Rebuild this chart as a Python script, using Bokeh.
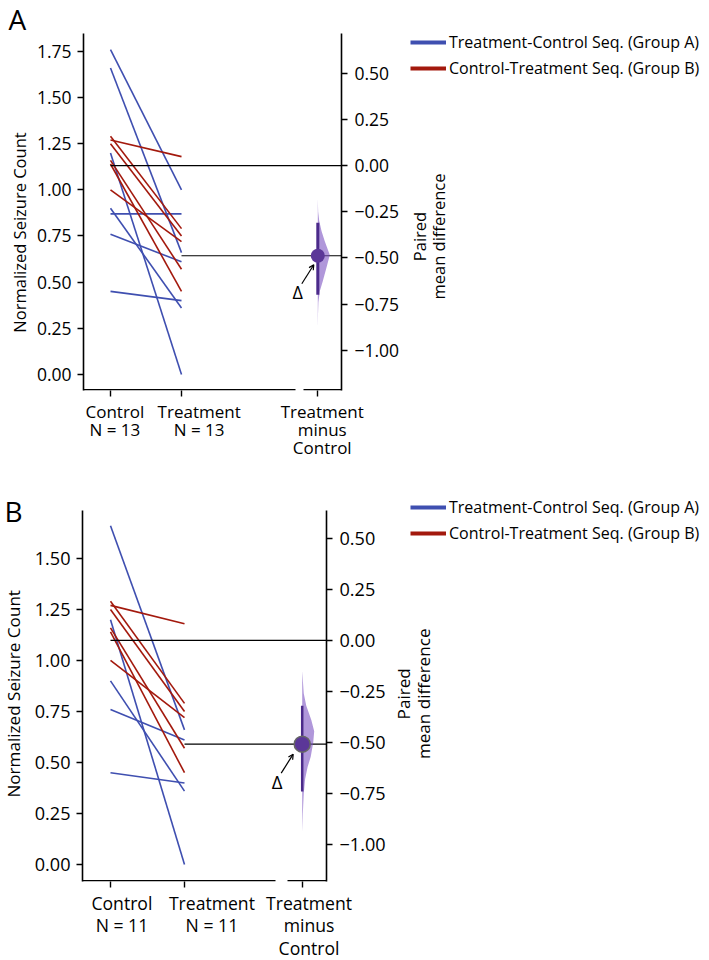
import numpy as np
from bokeh.plotting import figure
from bokeh.layouts import column, row
from bokeh.models import (Range1d, LinearAxis, SingleIntervalTicker, FixedTicker,
                          CustomJSTickFormatter, Legend, LegendItem, Label, Arrow,
                          OpenHead)
from bokeh.core.properties import value
from bokeh.embed import file_html
from bokeh.resources import INLINE

# ---------------- data ----------------
CATEGORIES = ["Control", "Treatment"]
CONTRAST_LABEL = ["Treatment", "minus", "Control"]
SERIES_NAMES = ["Treatment-Control Seq. (Group A)", "Control-Treatment Seq. (Group B)"]
LEFT_AXIS_TITLE = "Normalized Seizure Count"
RIGHT_AXIS_TITLE = "Paired\nmean difference"
PANEL_LETTERS = ["A", "B"]

# Panel A (N = 13)
A_GROUPA_CONTROL = [1.76, 1.66, 1.20, 0.90, 0.87, 0.76, 0.45]
A_GROUPA_TREAT = [1.00, 0.66, 0.00, 0.36, 0.87, 0.61, 0.40]
A_GROUPB_CONTROL = [1.29, 1.27, 1.25, 1.16, 1.14, 1.00]
A_GROUPB_TREAT = [0.79, 1.18, 0.75, 0.57, 0.45, 0.72]
A_CI = [-0.70, -0.31]
A_BOOT_DELTA = [-0.18, -0.25, -0.30, -0.355, -0.41, -0.485, -0.553, -0.626, -0.68, -0.74, -0.80, -0.88]
A_BOOT_DENS = [0.0, 0.03, 0.12, 0.31, 0.58, 1.0, 0.72, 0.42, 0.17, 0.05, 0.02, 0.0]

# Panel B (N = 11)
B_GROUPA_CONTROL = [1.66, 1.20, 0.90, 0.76, 0.45]
B_GROUPA_TREAT = [0.66, 0.00, 0.36, 0.61, 0.40]
B_GROUPB_CONTROL = [1.29, 1.27, 1.25, 1.16, 1.14, 1.00]
B_GROUPB_TREAT = [0.79, 1.18, 0.75, 0.57, 0.45, 0.72]
B_CI = [-0.74, -0.32]
B_BOOT_DELTA = [-0.15, -0.26, -0.32, -0.39, -0.445, -0.50, -0.57, -0.62, -0.68, -0.75, -0.85, -0.94]
B_BOOT_DENS = [0.0, 0.13, 0.34, 0.76, 1.0, 0.92, 0.71, 0.45, 0.24, 0.13, 0.05, 0.0]

# ---------------- styles / layout (page pixels) ----------------
FONT = "Open Sans"
BLUE = "#3f4fb0"
RED = "#a3190d"
DOT = "#5b3798"
CI_COLOR = "#4b2a8a"
VIOLIN = "#7b52c1"
NBSP_EM = 0.26

LAYOUT_A = dict(top=0, height=480, strip_w=30, main_right=406, total_w=705,
                frame_left=83, frame_right=341, axis_top=33, frame_bottom=390,
                ctrl_px=110, treat_px=181, eff_px=317.3, gap=(295, 303),
                ylim=(-0.087, 1.847), fs=1.0, x_line_height=0.8,
                label_shift=(4.5, 17, 4),
                letter_pos=(8, 18), ylabel_pos=(19, 232),
                rlabel_pos=(428.5, 236), legend_pos=(410, 29),
                dot_size=14, dot_line=None, ci_width=3,
                delta_off=(-20, 36), arrow_from=(-16, 28), arrow_to=(-4, 9))
LAYOUT_B = dict(top=480, height=478, strip_w=30, main_right=392, total_w=705,
                frame_left=82, frame_right=326, axis_top=510, frame_bottom=881,
                ctrl_px=110, treat_px=184, eff_px=301.7, gap=(275, 287),
                ylim=(-0.083, 1.735), fs=1.035, x_line_height=0.95,
                label_shift=(12.5, 28, 8),
                letter_pos=(4, 511), ylabel_pos=(12.5, 696),
                rlabel_pos=(413, 696), legend_pos=(410, 499),
                dot_size=16, dot_line="#666666", ci_width=2.5,
                delta_off=(-25, 37), arrow_from=(-21, 29), arrow_to=(-9, 10))

FMT2 = "return tick.toFixed(2).replace('-', '\u2212');"


def px(size):
    return f"{size:.1f}px"


def style_axis(ax, tick_fs):
    ax.axis_line_width = 1.6
    ax.axis_line_color = "black"
    ax.major_tick_line_width = 1.4
    ax.major_tick_out = 6
    ax.major_tick_in = 0
    ax.minor_tick_line_color = None
    ax.major_label_text_font = FONT
    ax.major_label_text_font_size = px(tick_fs)
    ax.major_label_text_color = "black"


def strip_fig(x_lo, x_hi, L):
    """Side strip whose frame lines up with the main frame; data units = page pixels."""
    top, H = L["top"], L["height"]
    fb = L["frame_bottom"] - top
    s = figure(width=int(x_hi - x_lo), height=H,
               x_range=Range1d(x_lo, x_hi),
               y_range=Range1d(-L["frame_bottom"], -top),
               output_backend="svg", toolbar_location=None,
               x_axis_location=None, y_axis_location=None,
               min_border_left=0, min_border_right=0,
               min_border_top=0, min_border_bottom=H - fb)
    s.outline_line_color = None
    for g in s.grid:
        g.visible = False
    return s


def make_panel(letter, ga_c, ga_t, gb_c, gb_t, ci, boot_d, boot_w, L):
    top, H = L["top"], L["height"]
    fs = L["fs"]
    sw = L["strip_w"]
    fl, fr = L["frame_left"], L["frame_right"]
    fb = L["frame_bottom"] - top
    sx = L["treat_px"] - L["ctrl_px"]
    x0 = (fl - L["ctrl_px"]) / sx
    x1 = (fr - L["ctrl_px"]) / sx
    eff_x = (L["eff_px"] - L["ctrl_px"]) / sx
    y0, y1 = L["ylim"]
    sy = (L["frame_bottom"] - L["axis_top"]) / (y1 - y0)
    y1f = y1 + (L["axis_top"] - top) / sy      # frame extends to the row top

    ctrl_all = ga_c + gb_c
    treat_all = ga_t + gb_t
    n = len(ctrl_all)
    cm = float(np.mean(ctrl_all))
    tm = float(np.mean(treat_all))
    delta = tm - cm

    # ---------- main plot ----------
    p = figure(frame_width=fr - fl, frame_height=fb,
               x_range=Range1d(x0, x1), y_range=Range1d(y0, y1f),
               output_backend="svg", toolbar_location=None,
               min_border_left=fl - sw, min_border_right=L["main_right"] - fr,
               min_border_top=0, min_border_bottom=H - fb)
    p.extra_y_ranges = {"delta": Range1d(y0 - cm, y1f - cm)}
    p.outline_line_color = None
    for g in p.grid:
        g.visible = False

    xs_pair = [0, 1]
    p.multi_line(xs=[xs_pair] * len(ga_c), ys=[[c, t] for c, t in zip(ga_c, ga_t)],
                 line_color=BLUE, line_width=1.6)
    p.multi_line(xs=[xs_pair] * len(gb_c), ys=[[c, t] for c, t in zip(gb_c, gb_t)],
                 line_color=RED, line_width=1.6)

    p.segment(x0=[0, 1], y0=[cm, tm], x1=[x1, x1], y1=[cm, tm],
              line_color="black", line_width=1.2)

    maxw = 12.0 / sx
    vx = [eff_x] + [eff_x + w * maxw for w in boot_w] + [eff_x]
    vy = [boot_d[0]] + list(boot_d) + [boot_d[-1]]
    p.patch(vx, vy, y_range_name="delta", fill_color=VIOLIN, fill_alpha=0.6,
            line_color=None)
    p.segment(x0=[eff_x], y0=[ci[0]], x1=[eff_x], y1=[ci[1]], y_range_name="delta",
              line_color=CI_COLOR, line_width=L["ci_width"])
    p.scatter(x=[eff_x], y=[delta], y_range_name="delta", size=L["dot_size"],
              fill_color=DOT, line_color=L["dot_line"] or DOT,
              line_width=1.5 if L["dot_line"] else 0)

    dxo, dyo = L["delta_off"]
    p.add_layout(Label(x=eff_x, y=delta, y_range_name="delta", x_offset=dxo, y_offset=-dyo,
                       text="\u0394", text_font=FONT, text_font_size=px(18 * fs),
                       text_align="center", text_baseline="middle", text_color="black"))
    (ax0, ay0), (ax1, ay1) = L["arrow_from"], L["arrow_to"]
    p.add_layout(Arrow(end=OpenHead(size=5, line_width=1.2, line_color="black"),
                       x_start=eff_x + ax0 / sx, y_start=delta - ay0 / sy,
                       x_end=eff_x + ax1 / sx, y_end=delta - ay1 / sy,
                       y_range_name="delta", line_width=1.2, line_color="black"))

    ly = p.yaxis[0]
    style_axis(ly, 17.5 * fs)
    ly.bounds = (y0, y1)
    ly.ticker = SingleIntervalTicker(interval=0.25, num_minor_ticks=0)
    ly.formatter = CustomJSTickFormatter(code=FMT2)
    ly.major_label_standoff = 6

    ry = LinearAxis(y_range_name="delta")
    style_axis(ry, 17.5 * fs)
    ry.bounds = (y0 - cm, y1 - cm)
    ry.ticker = SingleIntervalTicker(interval=0.25, num_minor_ticks=0)
    ry.formatter = CustomJSTickFormatter(code=FMT2)
    ry.major_label_standoff = 7
    p.add_layout(ry, "right")

    bx = p.xaxis[0]
    style_axis(bx, 17 * fs)
    bx.axis_line_color = None
    bx.ticker = FixedTicker(ticks=[0, 1, eff_x])
    raw_labels = [[c, f"N = {n}"] for c in CATEGORIES] + [CONTRAST_LABEL]
    nb_w = NBSP_EM * 17 * fs
    labels = []
    for lines, shift in zip(raw_labels, L["label_shift"]):
        pad = "\u00a0" * int(round(2 * shift / nb_w))
        labels.append("\n".join(pad + t for t in lines))
    bx.formatter = CustomJSTickFormatter(args=dict(labels=labels), code="return labels[index];")
    bx.major_label_standoff = 3
    bx.major_label_text_line_height = L["x_line_height"]

    # bottom axis line with the break before the contrast axis
    g0 = (L["gap"][0] - L["ctrl_px"]) / sx
    g1 = (L["gap"][1] - L["ctrl_px"]) / sx
    yb = y0 + 0.8 / sy
    p.segment(x0=[x0, g1], y0=[yb, yb], x1=[g0, x1], y1=[yb, yb],
              line_color="black", line_width=1.6)

    # ---------- left strip: panel letter + y axis title ----------
    ls = strip_fig(0, sw, L)
    lx, lby = L["letter_pos"]
    ls.text(x=[lx], y=[-lby], text=[letter], text_font=value(FONT),
            text_font_size=px(28), text_align="left", text_baseline="alphabetic",
            text_color="black")
    yx, yy = L["ylabel_pos"]
    ls.text(x=[yx], y=[-yy], text=[LEFT_AXIS_TITLE], angle=np.pi / 2,
            text_font=value(FONT), text_font_size=px(16.5 * fs), text_align="center",
            text_baseline="middle", text_color="black")

    # ---------- right strip: contrast axis title + legend ----------
    rs = strip_fig(L["main_right"], L["total_w"], L)
    rx, ryy = L["rlabel_pos"]
    rs.text(x=[rx], y=[-ryy], text=[RIGHT_AXIS_TITLE], angle=np.pi / 2,
            text_font=value(FONT), text_font_size=px(16.5 * fs), text_align="center",
            text_baseline="middle", text_color="black", text_line_height=0.85)
    # legend keys (the series themselves, lying outside this strip's view)
    ra = rs.multi_line(xs=[xs_pair] * len(ga_c), ys=[[c, t] for c, t in zip(ga_c, ga_t)],
                       line_color=BLUE, line_width=4)
    rb = rs.multi_line(xs=[xs_pair] * len(gb_c), ys=[[c, t] for c, t in zip(gb_c, gb_t)],
                       line_color=RED, line_width=4)
    row_h = 26
    leg_x, leg_top = L["legend_pos"]
    legend = Legend(items=[LegendItem(label=SERIES_NAMES[0], renderers=[ra]),
                           LegendItem(label=SERIES_NAMES[1], renderers=[rb])],
                    location=(leg_x - L["main_right"],
                              L["frame_bottom"] - (leg_top + 2 * row_h)),
                    padding=0, margin=0, spacing=0, glyph_width=36, glyph_height=row_h,
                    label_height=row_h, label_standoff=3,
                    label_text_font=FONT, label_text_font_size=px(16),
                    label_text_color="black",
                    border_line_color=None, background_fill_alpha=0)
    rs.add_layout(legend)

    return row(ls, p, rs, spacing=0)


ra_ = make_panel(PANEL_LETTERS[0], A_GROUPA_CONTROL, A_GROUPA_TREAT, A_GROUPB_CONTROL,
                 A_GROUPB_TREAT, A_CI, A_BOOT_DELTA, A_BOOT_DENS, LAYOUT_A)
rb_ = make_panel(PANEL_LETTERS[1], B_GROUPA_CONTROL, B_GROUPA_TREAT, B_GROUPB_CONTROL,
                 B_GROUPB_TREAT, B_CI, B_BOOT_DELTA, B_BOOT_DENS, LAYOUT_B)

layout = column(ra_, rb_, spacing=0)
open("out.html", "w").write(file_html(layout, INLINE))
